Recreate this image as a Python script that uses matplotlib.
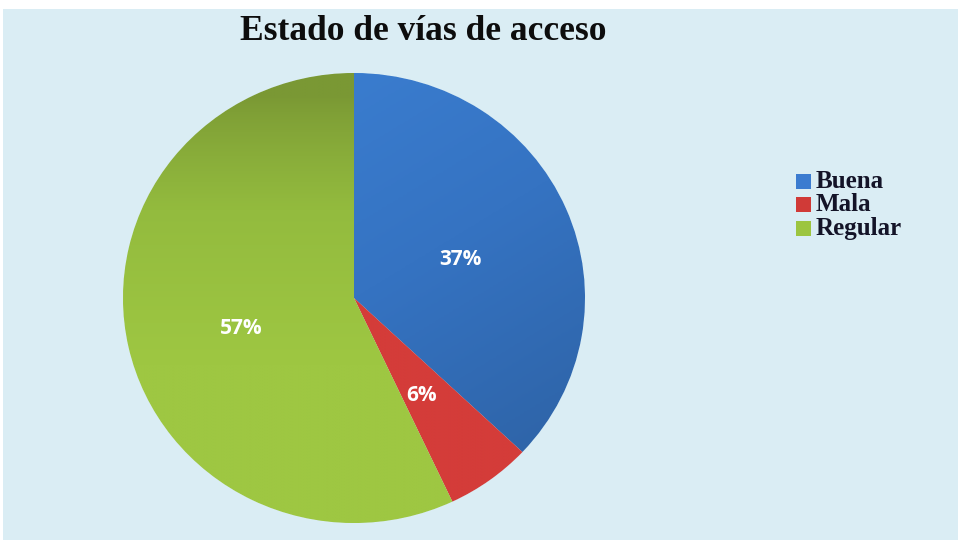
import numpy as np
import matplotlib
matplotlib.use("Agg")
import matplotlib.pyplot as plt
from matplotlib.patches import Rectangle
from matplotlib.colors import LinearSegmentedColormap

title = "Estado de vías de acceso"
categories = ["Buena", "Mala", "Regular"]
values = [37, 6, 57]
colors = ["#3b7cd0", "#d03a37", "#9cc540"]
# gradient colour stops for each slice
shades = [["#3d82d6", "#3573c2", "#2c5f9f"],
          ["#d43c39", "#d03a37", "#c8322f"],
          ["#7a9834", "#93bb3e", "#9ec742"]]

W, H, DPI = 958, 540, 100
fig = plt.figure(figsize=(W / DPI, H / DPI), dpi=DPI, facecolor="white")

# chart area background
bg = fig.add_axes([0, 0, 1, 1])
bg.set_xlim(0, W)
bg.set_ylim(H, 0)
bg.axis("off")
bg.add_patch(Rectangle((3, 9), W - 3, H - 9, facecolor="#daedf4", edgecolor="none"))

# pie axes spanning the pie's bounding box (pixels)
x0, y0, x1, y1 = 123, 73, 585, 523
ax = fig.add_axes([x0 / W, 1 - y1 / H, (x1 - x0) / W, (y1 - y0) / H])

wedges, texts, autotexts = ax.pie(
    values, colors=colors, startangle=90, counterclock=False, radius=1,
    autopct="%1.0f%%", pctdistance=0.5,
    wedgeprops=dict(linewidth=0.8, edgecolor="#daedf4"),
    textprops=dict(color="white", fontsize=15, fontweight="bold", family="Open Sans"),
)
ax.set_xlim(-1, 1)
ax.set_ylim(-1, 1)
ax.set_aspect("auto")
ax.axis("off")

# gradient shading within each slice
yy, xx = np.mgrid[1:-1:300j, -1:1:300j]
grads = [
    (xx * 0.5 - yy * 0.8),                      # blue: darker toward lower right
    np.zeros_like(xx),                          # red: flat
    np.clip((0.9 - yy) / 1.2, 0, 1) ** 0.8,     # green: olive only near the top
]
for w, g, stops in zip(wedges, grads, shades):
    g = (g - g.min()) / (g.max() - g.min() + 1e-9)
    cmap = LinearSegmentedColormap.from_list("s", stops)
    im = ax.imshow(g, cmap=cmap, extent=(-1, 1, -1, 1), origin="upper",
                   aspect="auto", zorder=w.get_zorder() + 0.1, interpolation="bilinear")
    im.set_clip_path(w)
for t in autotexts:
    x, y = t.get_position()
    t.set_position((x, y - 0.028))
    t.set_zorder(5)

fig.text(423 / W, 1 - 32 / H, title, ha="center", va="center",
         family="Liberation Serif", fontweight="bold", fontsize=25.5, color="#0d0d0d")

# legend
lx, ly, dy = 796, 181, 23.5
for i, (cat, col) in enumerate(zip(categories, colors)):
    y = ly + i * dy
    bg.add_patch(Rectangle((lx, y - 7.5), 15, 15, facecolor=col, edgecolor="none"))
    bg.text(lx + 20, y, cat, ha="left", va="center", family="Liberation Serif",
            fontweight="bold", fontsize=18, color="#141428")

fig.savefig("out.png", dpi=DPI, facecolor="white")
